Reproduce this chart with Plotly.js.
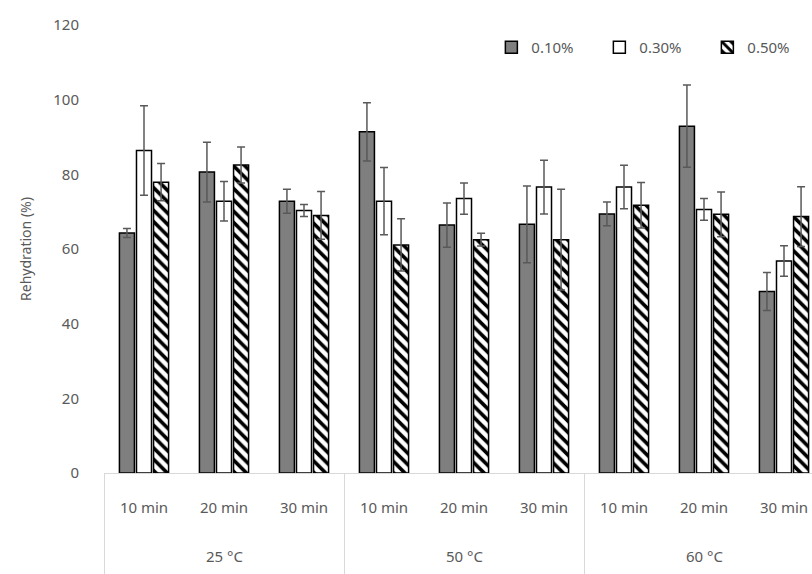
<!DOCTYPE html>
<html>
<head>
<meta charset="utf-8">
<script src="https://cdn.plot.ly/plotly-3.0.1.min.js"></script>
<style>
html,body{margin:0;padding:0;overflow:hidden;background:#fff;}
#chart{width:832px;height:574px;}
</style>
</head>
<body>
<div id="chart"></div>
<script>
// Categories
const temps = ["25 °C","25 °C","25 °C","50 °C","50 °C","50 °C","60 °C","60 °C","60 °C"];
const times = ["10 min","20 min","30 min","10 min","20 min","30 min","10 min","20 min","30 min"];
const groups = ["25 °C","50 °C","60 °C"];
const seriesNames = ["0.10%","0.30%","0.50%"];

// Values (rehydration %)
const v010 = [64.3, 80.6, 72.8, 91.4, 66.4, 66.6, 69.4, 92.9, 48.6];
const v030 = [86.4, 72.8, 70.3, 72.8, 73.5, 76.6, 76.6, 70.6, 56.8];
const v050 = [77.9, 82.5, 69.0, 61.1, 62.5, 62.5, 71.7, 69.3, 68.7];

// Error (±)
const e010 = [1.2, 8.0, 3.2, 7.8, 5.9, 10.3, 3.2, 11.0, 5.1];
const e030 = [12.0, 5.3, 1.6, 9.0, 4.2, 7.2, 5.8, 2.9, 4.1];
const e050 = [5.0, 4.8, 6.4, 7.0, 1.7, 13.5, 6.1, 6.0, 8.0];

// category index positions derived from the data
const pos = times.map((_, i) => i);
const groupCenters = groups.map(g => {
  const idx = pos.filter(i => temps[i] === g);
  return (idx[0] + idx[idx.length - 1]) / 2;
});
const groupEdges = [-0.5].concat(groups.map(g => {
  const idx = pos.filter(i => temps[i] === g);
  return idx[idx.length - 1] + 0.5;
}));
const xr = [-0.5, times.length - 0.5];

const errStyle = (arr) => ({type:'data', array:arr, visible:true, color:'#595959', thickness:1.5, width:4});

const traces = [
  {type:'bar', name:seriesNames[0], x:pos, y:v010, error_y:errStyle(e010),
   marker:{color:'#7f7f7f', line:{color:'#000', width:1.5}}},
  {type:'bar', name:seriesNames[1], x:pos, y:v030, error_y:errStyle(e030),
   marker:{color:'#ffffff', line:{color:'#000', width:1.5}}},
  {type:'bar', name:seriesNames[2], x:pos, y:v050, error_y:errStyle(e050),
   marker:{color:'#ffffff', line:{color:'#000', width:1.5},
     pattern:{shape:'\\', fgcolor:'#000', bgcolor:'#fff', size:8, solidity:0.45}}}
];

const groupLabels = groups.map((g, k) => ({
  text:g, x:groupCenters[k], xref:'x', y:-0.185, yref:'paper',
  xanchor:'center', yanchor:'middle', showarrow:false,
  font:{size:15, color:'#595959'}
}));

const layout = {
  width:832, height:574,
  margin:{l:104, r:8, t:25, b:101},
  paper_bgcolor:'#fff', plot_bgcolor:'#fff',
  font:{family:'"Noto Sans", sans-serif', color:'#595959', size:15},
  barmode:'group', bargap:0.36, bargroupgap:0.12,
  showlegend:true,
  legend:{orientation:'h', x:0.538, xanchor:'left', y:0.95, yanchor:'middle', entrywidth:63,
          font:{size:15, color:'#595959'}, bgcolor:'rgba(0,0,0,0)', traceorder:'normal'},
  xaxis:{type:'linear', range:xr, tickmode:'array', tickvals:pos, ticktext:times,
         showline:true, linecolor:'#d9d9d9', linewidth:1, ticks:'', ticklabelstandoff:21,
         tickfont:{size:15, color:'#595959'}, automargin:false, showgrid:false, zeroline:false,
         minor:{tickmode:'array', tickvals:groupEdges, ticks:'outside', ticklen:110, tickcolor:'#d9d9d9', tickwidth:1, showgrid:false}},
  yaxis:{range:[0,120], dtick:20, showgrid:false, zeroline:false, showline:false,
         ticks:'', ticklabelstandoff:24, tickfont:{size:15, color:'#595959'}, automargin:false,
         title:{text:'Rehydration (%)', font:{size:14, color:'#595959'}, standoff:18}},
  annotations:groupLabels
};

Plotly.newPlot('chart', traces, layout, {displayModeBar:false, staticPlot:true});
</script>
</body>
</html>
